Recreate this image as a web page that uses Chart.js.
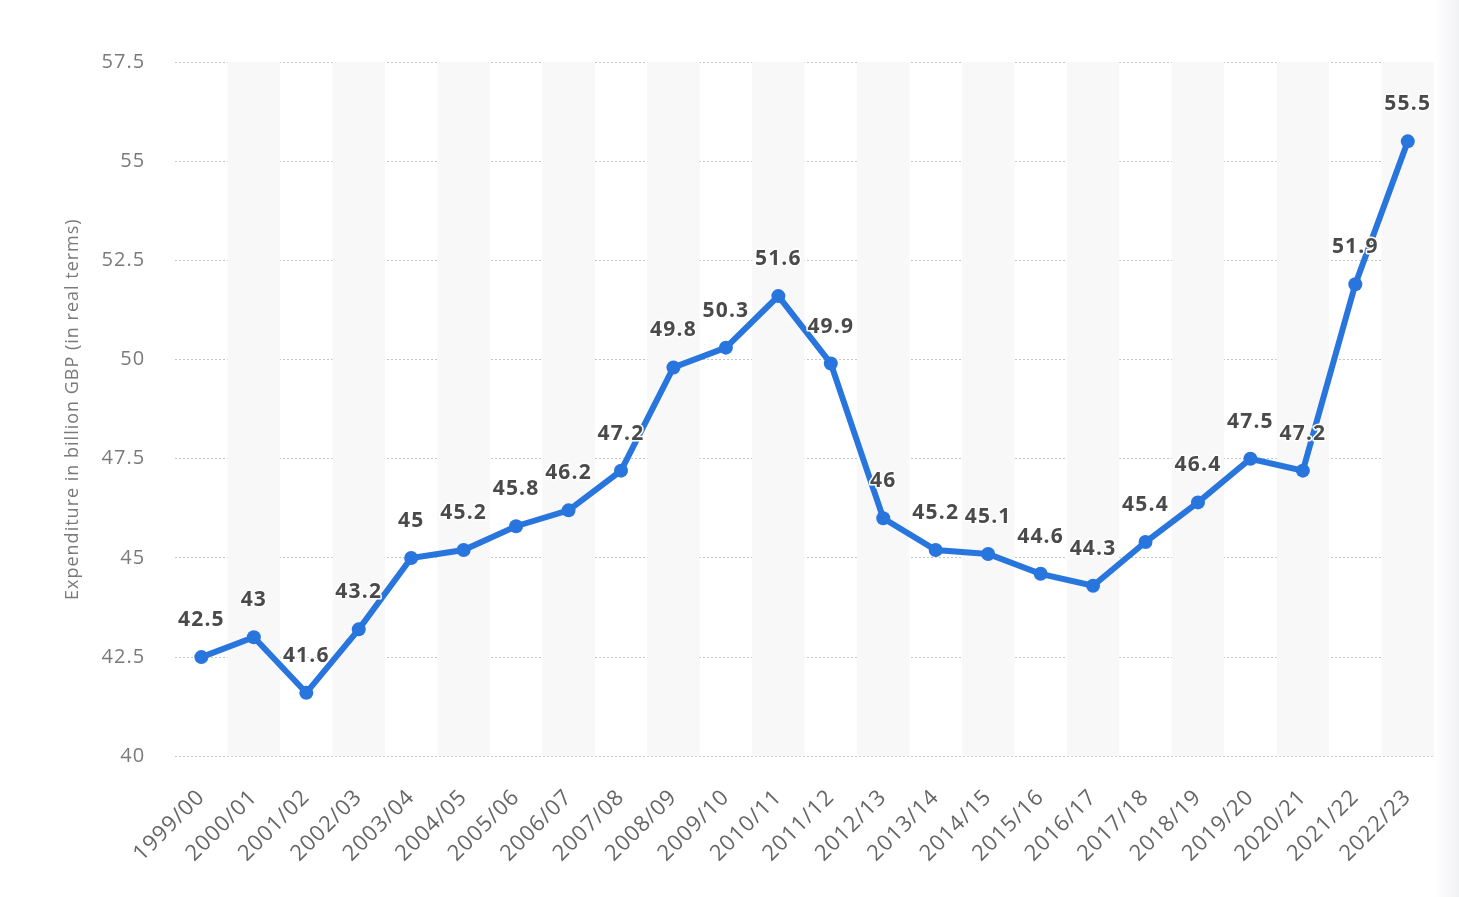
<!DOCTYPE html>
<html>
<head>
<meta charset="utf-8">
<script src="https://cdn.jsdelivr.net/npm/chart.js@4"></script>
<style>
  html, body { margin: 0; padding: 0; background: #fff; }
  #wrap { width: 1459px; height: 897px; position: relative; }
</style>
</head>
<body>
<div id="wrap"><canvas id="spending"></canvas></div>
<script>
  var years = ["1999/00", "2000/01", "2001/02", "2002/03", "2003/04", "2004/05", "2005/06", "2006/07",
    "2007/08", "2008/09", "2009/10", "2010/11", "2011/12", "2012/13", "2013/14", "2014/15",
    "2015/16", "2016/17", "2017/18", "2018/19", "2019/20", "2020/21", "2021/22", "2022/23"];
  var expenditure = [42.5, 43, 41.6, 43.2, 45, 45.2, 45.8, 46.2, 47.2, 49.8, 50.3, 51.6, 49.9,
    46, 45.2, 45.1, 44.6, 44.3, 45.4, 46.4, 47.5, 47.2, 51.9, 55.5];
  var yTicks = [40, 42.5, 45, 47.5, 50, 52.5, 55, 57.5];

  var fontFamily = "'Open Sans', 'DejaVu Sans', sans-serif";

  // wider text spacing like the original
  var spacingPlugin = {
    id: 'spacing',
    beforeUpdate: function(chart) { chart.ctx.letterSpacing = '1px'; },
    beforeLayout: function(chart) { chart.ctx.letterSpacing = '1px'; },
    beforeDraw: function(chart) {
      var ctx = chart.ctx;
      ctx.letterSpacing = '1px';
      // faint shadow on the right edge
      var g = ctx.createLinearGradient(chart.width - 24, 0, chart.width, 0);
      g.addColorStop(0, 'rgba(240,241,243,0)');
      g.addColorStop(1, 'rgba(240,241,243,1)');
      ctx.save();
      ctx.fillStyle = g;
      ctx.fillRect(chart.width - 24, 0, 24, chart.height);
      ctx.restore();
    }
  };

  // grey bands behind every other year
  var bandPlugin = {
    id: 'bands',
    beforeDatasetsDraw: function(chart) {
      var ctx = chart.ctx, area = chart.chartArea, x = chart.scales.x;
      var step = (area.right - area.left) / years.length;
      ctx.save();
      ctx.fillStyle = '#f8f8f8';
      for (var i = 1; i < years.length; i += 2) {
        var cx = x.getPixelForValue(i);
        ctx.fillRect(cx - step / 2, area.top, step, area.bottom - area.top);
      }
      ctx.restore();
    }
  };

  // value labels above the points
  var labelPlugin = {
    id: 'valueLabels',
    afterDatasetsDraw: function(chart) {
      var ctx = chart.ctx;
      var meta = chart.getDatasetMeta(0);
      ctx.save();
      ctx.font = "700 21px " + fontFamily;
      ctx.letterSpacing = '1.2px';
      ctx.textAlign = 'center';
      ctx.textBaseline = 'middle';
      ctx.lineJoin = 'round';
      meta.data.forEach(function(pt, i) {
        var txt = String(expenditure[i]);
        ctx.lineWidth = 3;
        ctx.strokeStyle = '#ffffff';
        ctx.strokeText(txt, pt.x, pt.y - 37);
        ctx.fillStyle = '#4a4a4a';
        ctx.fillText(txt, pt.x, pt.y - 37);
      });
      ctx.restore();
    }
  };

  var spendingChart = document.getElementById("spending");
  var spending = new Chart(spendingChart, {
    type: 'line',
    plugins: [spacingPlugin, bandPlugin, labelPlugin],
    data: {
      labels: years,
      datasets: [{
        data: expenditure,
        borderColor: '#2876dd',
        backgroundColor: '#2876dd',
        borderWidth: 6,
        pointRadius: 7,
        pointHoverRadius: 7,
        pointBorderWidth: 0,
        tension: 0,
        clip: false
      }]
    },
    options: {
      responsive: true,
      maintainAspectRatio: false,
      animation: false,
      layout: {
        padding: { top: 62, right: 25, left: 62, bottom: 10 }
      },
      plugins: {
        legend: { display: false },
        tooltip: { enabled: false }
      },
      scales: {
        x: {
          offset: true,
          grid: { display: false },
          border: { display: false },
          ticks: {
            color: '#666',
            font: { family: fontFamily, size: 22 },
            maxRotation: 45,
            minRotation: 45,
            padding: 20,
            autoSkip: false
          }
        },
        y: {
          min: 40,
          max: 57.5,
          afterBuildTicks: function(axis) {
            axis.ticks = yTicks.map(function(v) { return { value: v }; });
          },
          grid: {
            color: '#c4c4c4',
            lineWidth: 1,
            drawTicks: false
          },
          border: { display: false, dash: [2, 2] },
          ticks: {
            color: '#7a7a7a',
            font: { family: fontFamily, size: 20 },
            padding: 30
          },
          title: {
            display: true,
            text: 'Expenditure in billion GBP (in real terms)',
            color: '#7a7a7a',
            font: { family: fontFamily, size: 18 },
            padding: { top: 0, bottom: -12 }
          }
        }
      }
    }
  });
</script>
</body>
</html>
